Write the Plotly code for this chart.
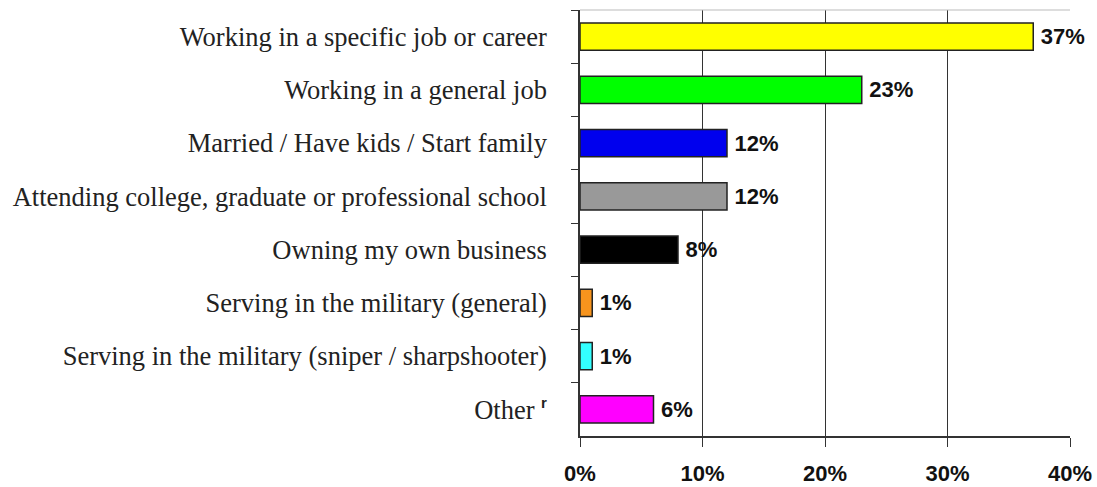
import plotly.graph_objects as go

categories = [
    "Working in a specific job or career",
    "Working in a general job",
    "Married / Have kids / Start family",
    "Attending college, graduate or professional school",
    "Owning my own business",
    "Serving in the military (general)",
    "Serving in the military (sniper / sharpshooter)",
    "Other <sup><span style='font-family:Liberation Sans;font-size:15px;font-weight:bold'>r</span></sup>",
]
values = [37, 23, 12, 12, 8, 1, 1, 6]
bar_colors = ["#FFFF00", "#00FF00", "#0000EE", "#999999", "#000000", "#F7941D", "#33FFFF", "#FF00FF"]
x_ticks = [0, 10, 20, 30, 40]
x_tick_text = ["0%", "10%", "20%", "30%", "40%"]

fig = go.Figure(
    go.Bar(
        y=categories,
        x=values,
        orientation="h",
        marker=dict(color=bar_colors, line=dict(color="#222222", width=1.5)),
        text=[f"\u2009{v}%" for v in values],
        textposition="outside",
        cliponaxis=False,
        textfont=dict(family="Liberation Sans", size=22, color="#111111", weight="bold"),
        width=0.51,
    )
)

fig.update_layout(
    width=1097,
    height=487,
    margin=dict(l=580, r=27, t=10, b=51),
    paper_bgcolor="white",
    plot_bgcolor="white",
    showlegend=False,
    uniformtext=dict(mode=False),
)

fig.update_yaxes(
    autorange="reversed",
    automargin=False,
    tickson="boundaries",
    ticks="outside",
    ticklen=7,
    tickcolor="#333333",
    showgrid=False,
    showline=True,
    linecolor="#333333",
    linewidth=1.5,
    tickfont=dict(family="Liberation Serif", size=26.5, color="#222222"),
    ticklabelstandoff=26,
)

fig.update_xaxes(
    range=[0, 40],
    automargin=False,
    tickvals=x_ticks,
    ticktext=x_tick_text,
    ticks="outside",
    ticklen=9,
    tickcolor="#333333",
    showgrid=True,
    gridcolor="#333333",
    gridwidth=1,
    showline=True,
    linecolor="#333333",
    linewidth=1.5,
    mirror=False,
    zeroline=False,
    tickfont=dict(family="Liberation Sans", size=22, color="#111111", weight="bold"),
    ticklabelstandoff=8,
)

# light frame line along the top of the plot area
fig.add_shape(type="line", xref="x", yref="paper", x0=0, x1=40, y0=1, y1=1,
              line=dict(color="#bbbbbb", width=1))

fig.write_html("out.html")
